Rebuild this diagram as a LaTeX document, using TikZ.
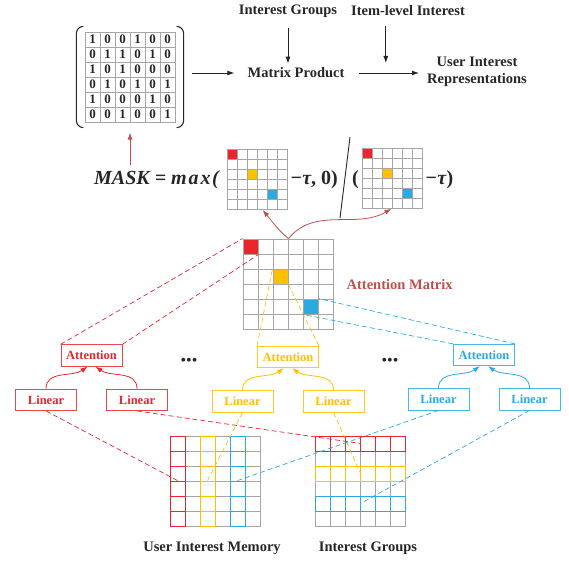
\documentclass[tikz,border=0pt]{standalone}
\usepackage{fontspec}
\setmainfont{Liberation Serif}
\usepackage{xcolor}
\usepackage{tikz}
\usetikzlibrary{arrows.meta,calc,fit,positioning}
\definecolor{ink}{HTML}{262626}
\definecolor{redc}{HTML}{E8262B}
\definecolor{gold}{HTML}{FFC000}
\definecolor{sky}{HTML}{29ABE2}
\definecolor{brick}{HTML}{C0504D}
\definecolor{cellgray}{HTML}{A6A6A6}
\tikzset{
  font=\bfseries,
  lbl/.style={font=\fontsize{14.5}{17}\selectfont\bfseries, text=ink, inner sep=0pt, align=center},
  bitcell/.style={draw=cellgray, line width=0.8pt, minimum size=15pt, inner sep=0pt, text=ink, font=\fontsize{13}{13}\selectfont\bfseries},
  amcell/.style={draw=cellgray, line width=0.9pt, minimum size=15pt, inner sep=0pt},
  smallcell/.style={draw=cellgray, line width=0.6pt, minimum size=10pt, inner sep=0pt},
  memcell/.style={draw=cellgray, line width=0.9pt, minimum size=15pt, inner sep=0pt},
  attbox/.style={draw, line width=0.8pt, fill=white, minimum width=61pt, minimum height=21.5pt, inner sep=0pt, font=\fontsize{12.5}{14}\selectfont\bfseries},
  formula/.style={font=\fontsize{20}{23}\selectfont\bfseries\itshape, inner sep=0pt, text=ink},
  flow/.style={-{Latex[length=7pt,width=5pt]}, draw=ink, line width=0.9pt},
  redflow/.style={-{Latex[length=7pt,width=5pt]}, draw=brick, line width=0.8pt},
  linkflow/.style={-{Latex[length=7pt,width=5pt]}, line width=0.8pt},
  tieline/.style={dash pattern=on 5pt off 3pt, line width=0.7pt},
  bracket/.style={draw=ink, line width=1.1pt}
}

\begin{document}
\begin{tikzpicture}[x=1pt, y=1pt, node distance=10pt]
  \useasboundingbox (0,0) rectangle (569,-561);

  % Bit matrix in brackets
  \foreach \row [count=\r from 0] in {{1,0,0,1,0,0},{0,1,1,0,1,0},{1,0,1,0,0,0},{0,1,0,1,0,1},{1,0,0,0,1,0},{0,0,1,0,0,1}}
    \foreach \b [count=\c from 0] in \row
      \node[bitcell] (bit-\r-\c) at ({92.5+15*\c},{-39.5-15*\r}) {\b};
  \node[fit=(bit-0-0)(bit-5-5), inner xsep=8pt, inner ysep=5pt] (matb) {};
  \draw[bracket] ([xshift=7pt]matb.north west) to[out=180,in=90] ([yshift=-7pt]matb.north west)
    -- ([yshift=7pt]matb.south west) to[out=-90,in=180] ([xshift=7pt]matb.south west);
  \draw[bracket] ([xshift=-7pt]matb.north east) to[out=0,in=90] ([yshift=-7pt]matb.north east)
    -- ([yshift=7pt]matb.south east) to[out=-90,in=0] ([xshift=-7pt]matb.south east);

  % Top row
  \node[lbl] (ig) at (288,-11) {Interest Groups};
  \node[lbl] (ili) at (408,-11) {Item-level Interest};
  \node[lbl] (mp) at (296,-73) {Matrix Product};
  \node[lbl] (uir) at (477,-72) {User Interest\\Representations};
  \draw[flow, shorten <=8pt, shorten >=13pt] (matb.east |- mp.west) -- (mp.west);
  \draw[flow, shorten <=14pt, shorten >=8pt] (mp.east) -- coordinate[midway] (joint) (uir.west |- mp.east);
  \draw[flow, shorten <=10pt, shorten >=4pt] (ig.south) -- (ig.south |- mp.north);
  \draw[flow, shorten <=10pt] (ili.south -| joint) -- ([yshift=10pt]joint);

  % MASK formula
  \node[formula, anchor=base west] (maskf) at (94,-185) {MASK\hspace{5pt}=\hspace{5pt}m\hspace{2pt}a\hspace{2pt}x\hspace{1.5pt}(};
  \foreach \r in {0,...,5}
    \foreach \c in {0,...,5} {
      \node[smallcell] (g1-\r-\c) at ({232+10*\c},{-154-10*\r}) {};
      \node[smallcell] (g2-\r-\c) at ({367+10*\c},{-153-10*\r}) {};
    }
  \foreach \k/\col in {0/redc,2/gold,4/sky} {
    \node[smallcell, fill=\col] (g1d-\k) at (g1-\k-\k) {};
    \node[smallcell, fill=\col] (g2d-\k) at (g2-\k-\k) {};
  }
  \node[formula, anchor=base west] (tau1) at (290,-185) {−τ\textup{, 0)}};
  \node[formula, anchor=base west] (paren) at (352,-185) {\textup{(}};
  \node[formula, anchor=base west] (tau2) at (425,-185) {−τ\textup{)}};
  \draw[ink, line width=0.9pt] (350,-137) -- (340,-218);
  \draw[redflow, shorten <=6pt, shorten >=5pt] (maskf.north -| matb.south) -- (matb.south);

  % Attention matrix
  \foreach \r in {0,...,5}
    \foreach \c in {0,...,5}
      \node[amcell] (am-\r-\c) at ({250.5+15*\c},{-246.5-15*\r}) {};
  \foreach \k/\col in {0/redc,2/gold,4/sky}
    \node[amcell, fill=\col] (amd-\k) at (am-\k-\k) {};
  \node[font=\fontsize{14.5}{17}\selectfont\bfseries, text=brick, inner sep=0pt, anchor=west, right=13pt of am-2-5.south east] (amlbl) {Attention Matrix};
  \draw[redflow, shorten >=1pt] (am-0-2.north east) to[out=140,in=-50] (g1-5-3.south);
  \draw[redflow, shorten >=1pt] (am-0-2.north east) to[out=50,in=-150] (g2-5-2.south east);

  % Attention heads
  \foreach \n/\col/\x/\y in {red/redc/91.5/355.5, yel/gold/288/357, blue/sky/484/355} {
    \node[attbox, draw=\col!85, text=\col] (att\n) at (\x,-\y) {Attention};
    \node[attbox, draw=\col!85, text=\col, below=22pt of att\n, xshift=-45.5pt] (lin\n1) {Linear};
    \node[attbox, draw=\col!85, text=\col, below=22pt of att\n, xshift=45.5pt] (lin\n2) {Linear};
    \draw[linkflow, draw=\col] (lin\n1.north) to[out=90,in=-145] ([xshift=-4pt]att\n.south);
    \draw[linkflow, draw=\col] (lin\n2.north) to[out=90,in=-35] ([xshift=4pt]att\n.south);
  }
  \node[font=\fontsize{16}{16}\selectfont, text=ink, inner sep=0pt] (dots1) at (189,-362) {•••};
  \node[font=\fontsize{16}{16}\selectfont, text=ink, inner sep=0pt] (dots2) at (390,-362) {•••};

  % Heads to attention matrix
  \draw[tieline, redc] (attred.north west) -- (am-0-0.north west);
  \draw[tieline, redc] (attred.north east) -- (am-0-0.south east);
  \draw[tieline, gold] (attyel.north west) -- (am-2-2.north west);
  \draw[tieline, gold] (attyel.north east) -- (am-2-2.south east);
  \draw[tieline, sky] (attblue.north west) -- (am-4-4.south west);
  \draw[tieline, sky] (attblue.north east) -- (am-4-4.north east);

  % Memory and interest groups
  \foreach \r in {0,...,5}
    \foreach \c in {0,...,5} {
      \node[memcell] (mem-\r-\c) at ({177.5+15*\c},{-443.5-15*\r}) {};
      \node[memcell] (grp-\r-\c) at ({322.5+15*\c},{-443.5-15*\r}) {};
    }
  \foreach \k/\col in {0/redc,2/gold,4/sky}
    \foreach \j in {0,...,5} {
      \node[memcell, draw=\col] (memc-\j-\k) at (mem-\j-\k) {};
      \node[memcell, draw=\col] (grpc-\k-\j) at (grp-\k-\j) {};
    }
  \node[lbl] (memlbl) at (212,-548) {User Interest Memory};
  \node[lbl] (grplbl) at (368,-548) {Interest Groups};

  % Linear layers to inputs
  \draw[tieline, redc] (linred1.south) -- (mem-3-0.north);
  \draw[tieline, redc] (linred2.south) -- (grp-0-2.east);
  \draw[tieline, gold] (linyel1.south) -- (mem-3-2.north);
  \draw[tieline, gold] (linyel2.south) -- (grp-2-2.east);
  \draw[tieline, sky] (linblue1.south) -- (mem-3-4.north);
  \draw[tieline, sky] (linblue2.south) -- (grp-4-2.east);
\end{tikzpicture}
\end{document}
